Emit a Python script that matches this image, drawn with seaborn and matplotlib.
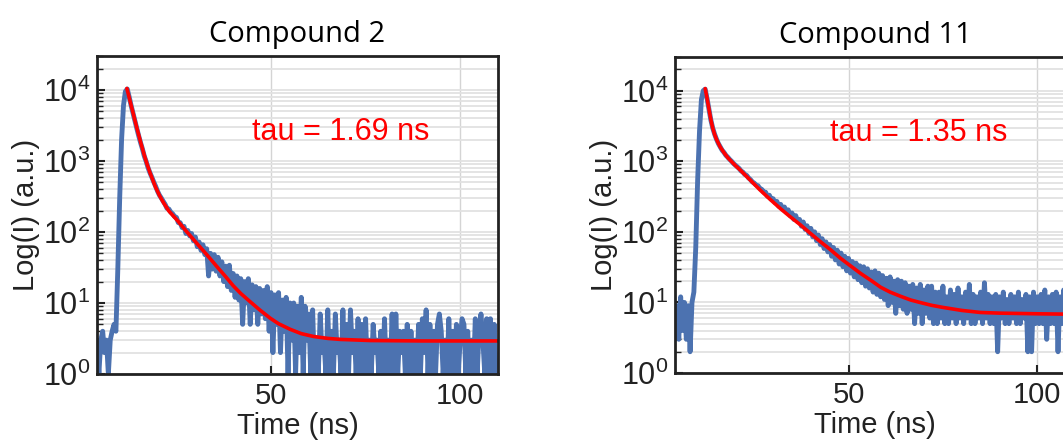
import numpy as np
import pandas as pd
import matplotlib
matplotlib.use("Agg")
import matplotlib.pyplot as plt
import seaborn as sns

# TCSPC decay traces, sampled every 0.5 ns starting at 4 ns (rows = 5 ns)
t_start = 4.0
t_step = 0.5

counts_c2 = [
    3, 1, 3, 4, 2, 3, 1, 3, 4, 5,                                  # 4.0
    4, 30, 300, 2000, 6000, 9500, 10300, 8000, 6100, 4750,         # 9.0
    3700, 2900, 2280, 1820, 1480, 1170, 980, 800, 680, 590,        # 14.0
    505, 440, 375, 330, 300, 270, 245, 215, 210, 190,              # 19.0
    180, 165, 160, 135, 135, 115, 120, 95, 105, 88,                # 24.0
    95, 75, 85, 62, 72, 55, 66, 48, 58, 24,                        # 29.0
    50, 30, 48, 28, 44, 24, 38, 20, 33, 17,                        # 34.0
    34, 15, 26, 12, 24, 11, 22, 5, 20, 10,                         # 39.0
    22, 5, 18, 8, 17, 5, 16, 7, 15, 6,                             # 44.0
    17, 4, 14, 2, 13, 5, 14, 2, 11, 4,                             # 49.0
    12, 1, 10, 3, 10, 1, 9, 2, 12, 1,                              # 54.0
    9, 3, 7, 1, 8, 1, 3, 1, 7, 2,                                  # 59.0
    3, 1, 8, 1, 4, 1, 7, 2, 3, 1,                                  # 64.0
    8, 1, 5, 1, 8, 2, 4, 1, 6, 1,                                  # 69.0
    5, 1, 6, 1, 3, 1, 5, 2, 3, 1,                                  # 74.0
    4, 1, 6, 1, 3, 1, 7, 1, 7, 1,                                  # 79.0
    4, 2, 4, 1, 5, 1, 4, 1, 3, 1,                                  # 84.0
    5, 1, 6, 2, 8, 1, 5, 1, 4, 1,                                  # 89.0
    5, 7, 4, 1, 3, 1, 6, 1, 4, 1,                                  # 94.0
    5, 1, 3, 6, 5, 1, 4, 1, 3, 1,                                  # 99.0
    6, 1, 4, 7, 3, 1, 6, 1, 6, 1,                                  # 104.0
    5, 1,                                                          # 109.0
]

counts_c11 = [
    3, 9, 3, 12, 4, 10, 3, 9, 2, 10,                               # 4.0
    14, 60, 540, 2700, 7500, 10000, 10500, 7700, 5400, 3850,       # 9.0
    2950, 2420, 2050, 1780, 1600, 1430, 1330, 1210, 1140, 1060,    # 14.0
    1000, 930, 880, 830, 790, 730, 700, 650, 630, 580,             # 19.0
    550, 510, 490, 460, 450, 410, 400, 365, 365, 320,              # 24.0
    330, 290, 295, 260, 270, 230, 245, 210, 225, 190,              # 29.0
    205, 170, 185, 150, 170, 140, 150, 120, 138, 108,              # 34.0
    122, 95, 112, 85, 100, 75, 90, 66, 80, 58,                     # 39.0
    72, 52, 66, 45, 60, 40, 55, 35, 50, 32,                        # 44.0
    45, 28, 42, 26, 38, 23, 36, 21, 33, 19,                        # 49.0
    32, 17, 30, 16, 27, 14, 28, 13, 26, 12,                        # 54.0
    24, 11, 22, 9, 23, 10, 20, 7, 21, 9,                           # 59.0
    20, 8, 19, 7, 17, 8, 18, 5, 16, 7,                             # 64.0
    18, 5, 15, 7, 17, 6, 17, 5, 14, 5,                             # 69.0
    14, 6, 17, 5, 12, 5, 15, 6, 13, 5,                             # 74.0
    16, 6, 12, 5, 14, 6, 18, 5, 13, 5,                             # 79.0
    12, 6, 14, 5, 19, 6, 13, 5, 12, 5,                             # 84.0
    13, 2, 12, 6, 14, 5, 11, 5, 13, 6,                             # 89.0
    12, 5, 14, 5, 11, 6, 13, 2, 12, 2,                             # 94.0
    14, 5, 12, 5, 13, 5, 15, 3, 12, 5,                             # 99.0
    13, 5, 14, 2, 12, 5, 15, 5, 12, 5,                             # 104.0
    13, 5,                                                         # 109.0
]

# fitted curves
fit_t_c2 = [11.9, 12.8, 13.7, 14.6, 15.5, 16.5, 17.2, 18.0, 19.4, 20.5,
            21.6, 23.0, 25.2, 27.5, 30.5, 33.0, 35.7, 38.0, 40.0, 42.0,
            44.5, 47.0, 49.8, 52.0, 55.1, 58.0, 61.2, 65.0, 68.3, 76.2,
            90.0, 110.0]
fit_y_c2 = [10470, 6760, 4365, 2818, 1862, 1202, 912, 684, 437, 327,
            257, 197, 146, 104, 68, 48, 32.5, 23.5, 17.5, 13.6,
            10.4, 8.0, 6.1, 5.1, 4.25, 3.7, 3.38, 3.17, 3.07, 2.96,
            2.92, 2.92]

fit_t_c11 = [12.0, 12.5, 13.0, 13.5, 14.0, 14.5, 15.0, 16.0, 17.0, 18.0,
             20.0, 21.3, 24.0, 26.6, 29.0, 31.9, 34.5, 37.2, 40.0, 42.6,
             45.0, 47.9, 50.5, 53.2, 56.0, 58.5, 61.0, 63.8, 66.5, 69.2,
             72.0, 75.0, 80.0, 85.0, 90.0, 100.0, 110.0]
fit_y_c11 = [10700, 7760, 5500, 3890, 2950, 2400, 2040, 1585, 1318, 1122,
             871, 750, 537, 389, 295, 214, 164, 126, 94, 72,
             57, 42, 33, 25.7, 20.4, 16.4, 14.0, 12.2, 10.8, 9.9,
             9.1, 8.5, 7.7, 7.2, 7.05, 6.9, 6.8]

titles = ["Compound 2", "Compound 11"]
tau_labels = ["tau = 1.69 ns", "tau = 1.35 ns"]

sns.set_style("white")
plt.rcParams["font.family"] = ["Liberation Sans", "DejaVu Sans"]
plt.rcParams["mathtext.fontset"] = "custom"
plt.rcParams["mathtext.rm"] = "Liberation Sans"
plt.rcParams["text.color"] = "#222222"
plt.rcParams["axes.labelcolor"] = "#222222"
plt.rcParams["xtick.color"] = "#222222"
plt.rcParams["ytick.color"] = "#222222"

blue = sns.color_palette("deep")[0]

fig = plt.figure(figsize=(10.63, 4.4), dpi=100)
ax1 = fig.add_axes([97 / 1063, 66 / 440, 401 / 1063, 318 / 440])
ax2 = fig.add_axes([675 / 1063, 67 / 440, 400 / 1063, 316 / 440])

panels = [
    (ax1, counts_c2, fit_t_c2, fit_y_c2),
    (ax2, counts_c11, fit_t_c11, fit_y_c11),
]

for i, (ax, counts, ft, fy) in enumerate(panels):
    t = t_start + t_step * np.arange(len(counts))
    raw = pd.DataFrame({"time": t, "counts": counts})
    fit = pd.DataFrame({"time": ft, "counts": fy})

    sns.lineplot(data=raw, x="time", y="counts", color=blue, lw=3.5,
                 ax=ax, sort=False, estimator=None)
    sns.lineplot(data=fit, x="time", y="counts", color="red", lw=2.6,
                 ax=ax, sort=False, estimator=None)

    ax.set_yscale("log")
    ax.set_xlim(4, 110)
    ax.set_ylim(1, 3e4)
    ax.set_xticks([50, 100])

    ax.grid(True, which="both", axis="y", color="#e2e2e2", lw=1.3)
    ax.grid(True, which="major", axis="x", color="#d4d4d4", lw=1.0)
    ax.set_axisbelow(True)

    for sp in ax.spines.values():
        sp.set_linewidth(2.0)
        sp.set_color("#222222")

    ax.tick_params(axis="y", which="major", direction="in", left=True,
                   length=6, width=1.5, labelsize=22, pad=5)
    ax.tick_params(axis="y", which="minor", direction="in", left=True,
                   length=4, width=1.0)
    ax.tick_params(axis="x", which="major", direction="in", bottom=True,
                   length=6, width=1.5, labelsize=21, pad=6)
    ax.tick_params(axis="x", which="minor", bottom=False)

    ax.set_xlabel("Time (ns)", fontsize=21, labelpad=1)
    ax.set_ylabel("Log(I) (a.u.)", fontsize=21, labelpad=2)
    ax.set_title(titles[i], fontsize=21, family="Open Sans", color="black",
                 pad=10)

    ax.text(45, 1950, tau_labels[i], color="red", fontsize=22)

plt.savefig("out.png", dpi=100)
